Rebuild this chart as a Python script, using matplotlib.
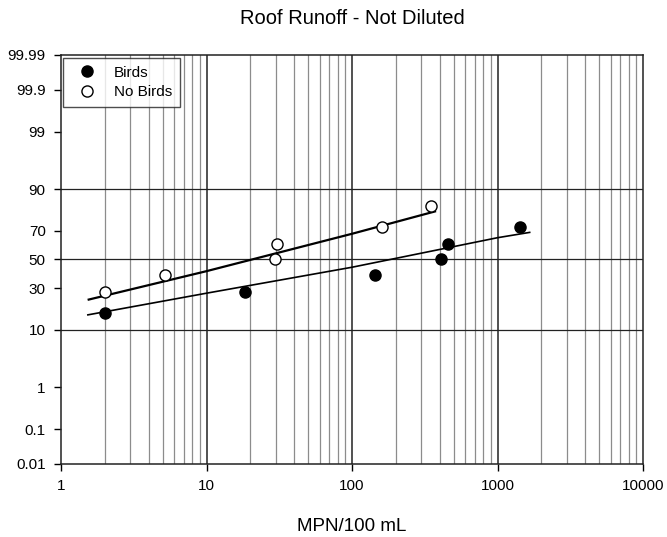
"""Roof runoff (not diluted): lognormal probability plot of MPN counts."""

from statistics import NormalDist

import matplotlib

matplotlib.use("Agg")
import matplotlib.pyplot as plt
import numpy as np
from matplotlib.ticker import FixedLocator, NullFormatter

plt.rcParams["font.family"] = ["Liberation Sans", "DejaVu Sans"]

# measured points, cumulative percent vs MPN/100 mL
BIRDS_MPN = [2, 18.5, 145, 410, 460, 1420]
BIRDS_PCT = [16.7, 27.8, 38.9, 50.0, 61.1, 72.2]
NO_BIRDS_MPN = [2, 5.2, 29.5, 30.5, 160, 350]
NO_BIRDS_PCT = [27.8, 38.9, 50.0, 61.1, 72.2, 83.3]

# fitted lines
BIRDS_FIT_MPN = [1.53, 10, 100, 1000, 1664]
BIRDS_FIT_PCT = [15.7, 27.0, 44.4, 65.4, 68.9]
NO_BIRDS_FIT_MPN = [1.55, 10, 100, 372]
NO_BIRDS_FIT_PCT = [23.3, 41.6, 68.0, 80.9]

Y_TICKS = [0.01, 0.1, 1, 10, 30, 50, 70, 90, 99, 99.9, 99.99]
Y_TICK_LABELS = ["0.01", "0.1", "1", "10", "30", "50", "70", "90", "99", "99.9", "99.99"]
Y_GRID = [10, 50, 90]
X_TICKS = [1, 10, 100, 1000, 10000]
X_TICK_LABELS = ["1", "10", "100", "1000", "10000"]

_nd = NormalDist()
_ppf = np.vectorize(_nd.inv_cdf, otypes=[float])
_cdf = np.vectorize(_nd.cdf, otypes=[float])


def to_z(pct):
    p = np.clip(np.asarray(pct, dtype=float) / 100.0, 1e-12, 1 - 1e-12)
    return _ppf(p)


def from_z(z):
    return _cdf(np.asarray(z, dtype=float)) * 100.0


def main() -> None:
    fig = plt.figure(figsize=(6.67, 5.37), dpi=100)
    ax = fig.add_axes([61 / 667, 1 - 464 / 537, 582 / 667, 409 / 537])

    ax.set_xscale("log")
    ax.set_yscale("function", functions=(to_z, from_z))
    ax.set_xlim(1, 10000)
    ax.set_ylim(0.01, 99.99)

    # grid: grey minor decades, dark decade lines, a few horizontal lines
    minor = [m * 10**d for d in range(4) for m in range(2, 10)]
    for x in minor:
        ax.axvline(x, color="#8c8c8c", lw=0.9, zorder=1)
    for x in X_TICKS[1:-1]:
        ax.axvline(x, color="#222222", lw=1.1, zorder=1)
    for y in Y_GRID:
        ax.axhline(y, color="#222222", lw=0.9, zorder=1)

    ax.plot(NO_BIRDS_FIT_MPN, NO_BIRDS_FIT_PCT, color="black", lw=1.6, zorder=2)
    ax.plot(BIRDS_FIT_MPN, BIRDS_FIT_PCT, color="black", lw=1.2, zorder=2)

    ax.plot(BIRDS_MPN, BIRDS_PCT, "o", ms=8, mfc="black", mec="black",
            ls="none", label="Birds", zorder=3)
    ax.plot(NO_BIRDS_MPN, NO_BIRDS_PCT, "o", ms=8, mfc="white", mec="black",
            mew=1.0, ls="none", label="No Birds", zorder=3)

    ax.set_xticks(X_TICKS, X_TICK_LABELS)
    ax.xaxis.set_minor_locator(FixedLocator(minor))
    ax.xaxis.set_minor_formatter(NullFormatter())
    ax.tick_params(axis="x", which="minor", length=0)
    ax.set_yticks(Y_TICKS, Y_TICK_LABELS)
    ax.yaxis.set_minor_locator(FixedLocator([]))
    ax.tick_params(axis="both", which="major", direction="out", length=5,
                   width=1, labelsize=11, color="black", pad=6)

    for side in ax.spines.values():
        side.set_color("#222222")
        side.set_linewidth(1.1)

    ax.set_xlabel("MPN/100 mL", fontsize=13.5, labelpad=18)
    fig.text(352 / 667, 1 - 18 / 537, "Roof Runoff - Not Diluted",
             fontsize=14.5, ha="center", va="center")

    leg = ax.legend(loc="upper left", bbox_to_anchor=(0.003, 0.993),
                    frameon=True, fancybox=False, fontsize=11,
                    handletextpad=0.64, borderpad=0.5, labelspacing=0.38,
                    handlelength=2.2, borderaxespad=0)
    leg.get_frame().set_edgecolor("#222222")
    leg.get_frame().set_linewidth(1.0)

    fig.savefig("out.png", dpi=100)
    plt.close(fig)


if __name__ == "__main__":
    main()
